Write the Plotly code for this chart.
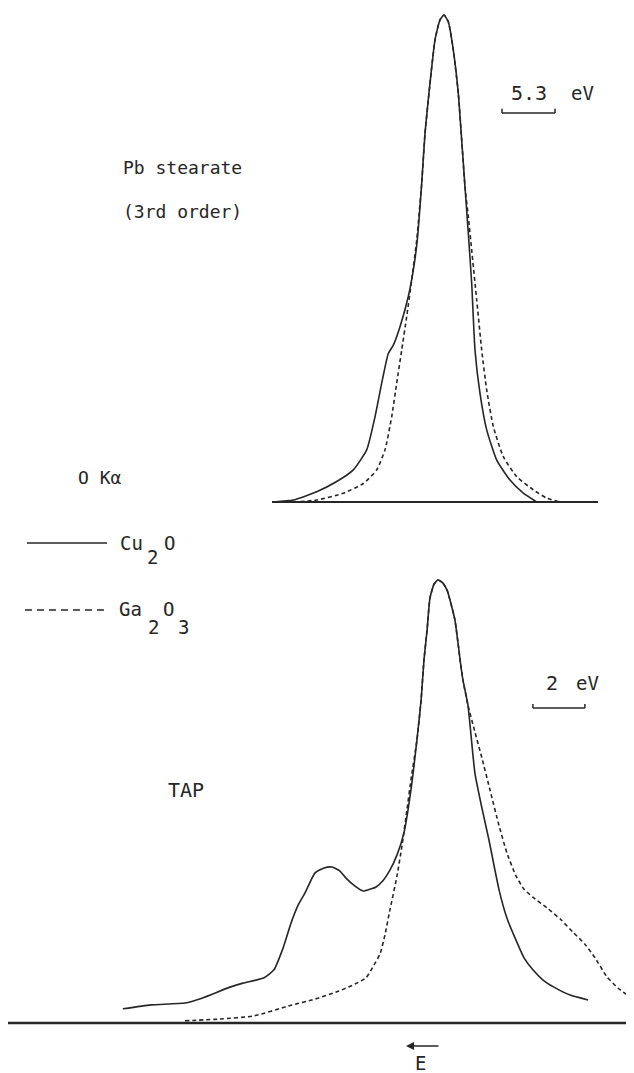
import plotly.graph_objects as go

# The page body has an 8px margin, so the figure is drawn 8px in from the window edge.
WIN_W, WIN_H = 634, 1073
OFF = 8
W, H = WIN_W - OFF, WIN_H - OFF

# ---------------- Data ----------------
# Relative photon energy in eV (0 = peak, positive = higher energy, plotted to the LEFT)
# Intensity normalised to the main peak (1.0)

# Top panel: Pb stearate crystal (3rd order)
top_cu2o_E = [17.07, 15.07, 12.73, 10.73, 9.07, 7.73, 6.9, 6.23, 5.57, 5.07, 4.4, 3.57, 3.07,
              2.67, 2.23, 1.9, 1.4, 0.9, 0.4, 0.0, -0.43, -0.93, -1.43, -1.77, -2.1, -2.43,
              -2.77, -3.1, -3.6, -4.27, -5.27, -6.6, -7.93, -9.27]
top_cu2o_I = [0.0, 0.004, 0.021, 0.042, 0.066, 0.107, 0.175, 0.244, 0.305, 0.322, 0.36, 0.422,
              0.476, 0.538, 0.654, 0.757, 0.86, 0.949, 0.99, 1.0, 0.986, 0.928, 0.839, 0.743,
              0.647, 0.552, 0.449, 0.312, 0.223, 0.148, 0.086, 0.045, 0.018, 0.0]
top_ga2o3_E = [15.07, 12.73, 10.07, 8.07, 6.73, 5.9, 5.23, 4.73, 4.23, 3.73, 3.23, 2.73,
               2.23, 1.9, 1.4, 0.9, 0.4, 0.0, -0.43, -0.93, -1.43, -1.77, -2.1,
               -2.43, -2.77, -3.27, -3.77, -4.27, -4.93, -5.93, -7.27, -8.93, -10.27, -11.6]
top_ga2o3_I = [0.0, 0.004, 0.018, 0.038, 0.066, 0.107, 0.175, 0.244, 0.312, 0.381, 0.456, 0.538,
               0.654, 0.757, 0.86, 0.949, 0.99, 1.0, 0.986, 0.928, 0.839, 0.743, 0.647,
               0.586, 0.517, 0.415, 0.312, 0.23, 0.155, 0.093, 0.052, 0.025, 0.008, 0.0]

# Bottom panel: TAP crystal
tap_cu2o_E = [12.12, 11.04, 9.73, 9.08, 8.0, 7.5, 6.69, 6.31, 5.96, 5.65, 5.38, 5.12, 4.73,
              4.38, 4.08, 3.77, 3.54, 3.19, 2.88, 2.62, 2.38, 2.12, 1.85, 1.58, 1.31, 1.04,
              0.81, 0.65, 0.54, 0.42, 0.31, 0.15, 0.0, -0.19, -0.35, -0.46, -0.65, -0.77,
              -0.85, -0.96, -1.15, -1.42, -1.69, -1.96, -2.35, -2.65, -3.0, -3.31, -3.65,
              -4.04, -4.46, -5.08, -5.77]
tap_cu2o_I = [0.032, 0.041, 0.045, 0.056, 0.081, 0.09, 0.102, 0.12, 0.169, 0.226, 0.266, 0.293,
              0.339, 0.35, 0.352, 0.343, 0.327, 0.309, 0.298, 0.302, 0.307, 0.321, 0.345, 0.379,
              0.429, 0.526, 0.639, 0.729, 0.819, 0.887, 0.959, 0.991, 1.0, 0.993, 0.977, 0.955,
              0.91, 0.858, 0.819, 0.774, 0.718, 0.564, 0.485, 0.413, 0.3, 0.237, 0.187, 0.147,
              0.12, 0.097, 0.081, 0.063, 0.052]
tap_ga2o3_E = [9.73, 8.38, 7.08, 5.77, 4.73, 3.81, 3.19, 2.77, 2.46, 2.23, 2.04, 1.85, 1.58,
               1.38, 1.19, 1.04, 0.81, 0.65, 0.54, 0.42, 0.31, 0.15, 0.0, -0.19, -0.35, -0.46,
               -0.65, -0.77, -0.85, -0.96, -1.15, -1.42, -1.69, -2.0, -2.35, -2.65, -3.0, -3.31,
               -3.65, -4.19, -4.73, -5.19, -5.65, -6.04, -6.5, -6.92, -7.38]
tap_ga2o3_I = [0.005, 0.009, 0.016, 0.038, 0.054, 0.072, 0.088, 0.102, 0.131, 0.156, 0.199,
               0.255, 0.331, 0.402, 0.483, 0.549, 0.639, 0.729, 0.819, 0.887, 0.959, 0.991, 1.0,
               0.993, 0.977, 0.955, 0.91, 0.858, 0.819, 0.774, 0.718, 0.657, 0.598, 0.526, 0.445,
               0.384, 0.332, 0.302, 0.284, 0.26, 0.233, 0.205, 0.178, 0.147, 0.104, 0.079, 0.059]

# Baselines and energy scale bars (eV)
top_baseline_E = [17.2, -15.4]
tap_baseline_E = [16.6, -7.6]
top_scalebar_E = [-5.8, -11.1]   # 5.3 eV
tap_scalebar_E = [-3.65, -5.65]  # 2 eV
top_scalebar_I = 0.799
tap_scalebar_I = 0.711

# ---------------- Figure ----------------
INK = "#262626"
FONT = "DejaVu Sans Mono"
LW = 1.6

fig = go.Figure()

fig.add_trace(go.Scatter(x=top_cu2o_E, y=top_cu2o_I, mode="lines", xaxis="x", yaxis="y",
                         line=dict(color=INK, width=LW, shape="spline", smoothing=0.5),
                         name="Cu2O", showlegend=False))
fig.add_trace(go.Scatter(x=top_ga2o3_E, y=top_ga2o3_I, mode="lines", xaxis="x", yaxis="y",
                         line=dict(color=INK, width=LW, dash="4px,3px", shape="spline", smoothing=0.5),
                         name="Ga2O3", showlegend=False))
fig.add_trace(go.Scatter(x=tap_cu2o_E, y=tap_cu2o_I, mode="lines", xaxis="x2", yaxis="y2",
                         line=dict(color=INK, width=LW, shape="spline", smoothing=0.5),
                         name="Cu2O", showlegend=False))
fig.add_trace(go.Scatter(x=tap_ga2o3_E, y=tap_ga2o3_I, mode="lines", xaxis="x2", yaxis="y2",
                         line=dict(color=INK, width=LW, dash="4px,3px", shape="spline", smoothing=0.5),
                         name="Ga2O3", showlegend=False))

shapes = []
# baselines
shapes.append(dict(type="line", xref="x", yref="y", x0=top_baseline_E[0], x1=top_baseline_E[1],
                   y0=0, y1=0, line=dict(color=INK, width=2.2)))
shapes.append(dict(type="line", xref="x2", yref="y2", x0=tap_baseline_E[0], x1=tap_baseline_E[1],
                   y0=0, y1=0, line=dict(color=INK, width=2.4)))
# scale bars with small upturned ends
for xr, yr, E, I, tick in [("x", "y", top_scalebar_E, top_scalebar_I, 0.0085),
                           ("x2", "y2", tap_scalebar_E, tap_scalebar_I, 0.009)]:
    shapes.append(dict(type="line", xref=xr, yref=yr, x0=E[0], x1=E[1], y0=I, y1=I,
                       line=dict(color=INK, width=1.5)))
    for e in E:
        shapes.append(dict(type="line", xref=xr, yref=yr, x0=e, x1=e, y0=I, y1=I + tick,
                           line=dict(color=INK, width=1.5)))


def px(x):
    return (x - OFF) / W


def py(y):
    return 1 - (y - OFF) / H


# legend samples
shapes.append(dict(type="line", xref="paper", yref="paper", x0=px(27), x1=px(107),
                   y0=py(543), y1=py(543), line=dict(color=INK, width=1.6)))
shapes.append(dict(type="line", xref="paper", yref="paper", x0=px(25), x1=px(108),
                   y0=py(610), y1=py(610), line=dict(color=INK, width=1.6, dash="7px,5px")))

annotations = []


def txt(s, x, y, size=18, anchor="left"):
    annotations.append(dict(text=s, x=px(x), y=py(y), xref="paper", yref="paper",
                            xanchor=anchor, yanchor="middle", showarrow=False,
                            font=dict(family=FONT, size=size, color=INK)))


txt("Pb stearate", 121, 168)
txt("(3rd order)", 121, 212)
txt("5.3", 509, 93, size=20)
txt("eV", 569, 93, size=19)
txt("O Kα", 76, 478)
txt("Cu", 118, 543, size=19)
txt("2", 152, 557, size=19, anchor="center")
txt("O", 170, 543, size=19, anchor="center")
txt("Ga", 117, 609, size=19)
txt("2", 153, 627, size=19, anchor="center")
txt("O", 168, 609, size=19, anchor="center")
txt("3", 183, 627, size=19, anchor="center")
txt("TAP", 166, 790, size=20)
txt("2", 552, 683, size=20, anchor="center")
txt("eV", 574, 683, size=19)
txt("E", 420, 1063, size=19, anchor="center")

# energy direction arrow (<-)
annotations.append(dict(text="", x=px(406), y=py(1046), xref="paper", yref="paper",
                        ax=34, ay=0, showarrow=True, arrowhead=2, arrowsize=1,
                        arrowwidth=1.6, arrowcolor=INK))

# axis ranges chosen so that window pixels OFF..634 / OFF..1073 map onto the drawing
top_x_range = [(444 - OFF) / 10.0, (444 - WIN_W) / 10.0]
top_y_range = [(502 - WIN_H) / 487.0, (502 - OFF) / 487.0]
tap_x_range = [(438 - OFF) / 26.0, (438 - WIN_W) / 26.0]
tap_y_range = [(1023 - WIN_H) / 443.0, (1023 - OFF) / 443.0]

fig.update_layout(
    width=W, height=H, autosize=False,
    margin=dict(l=0, r=0, t=0, b=0, pad=0),
    paper_bgcolor="white", plot_bgcolor="white",
    showlegend=False,
    xaxis=dict(domain=[0, 1], range=top_x_range, visible=False, anchor="y"),
    yaxis=dict(domain=[0, 1], range=top_y_range, visible=False, anchor="x"),
    xaxis2=dict(domain=[0, 1], range=tap_x_range, visible=False, anchor="y2", overlaying="x"),
    yaxis2=dict(domain=[0, 1], range=tap_y_range, visible=False, anchor="x2", overlaying="y"),
    shapes=shapes,
    annotations=annotations,
)

fig.write_html("out.html")
